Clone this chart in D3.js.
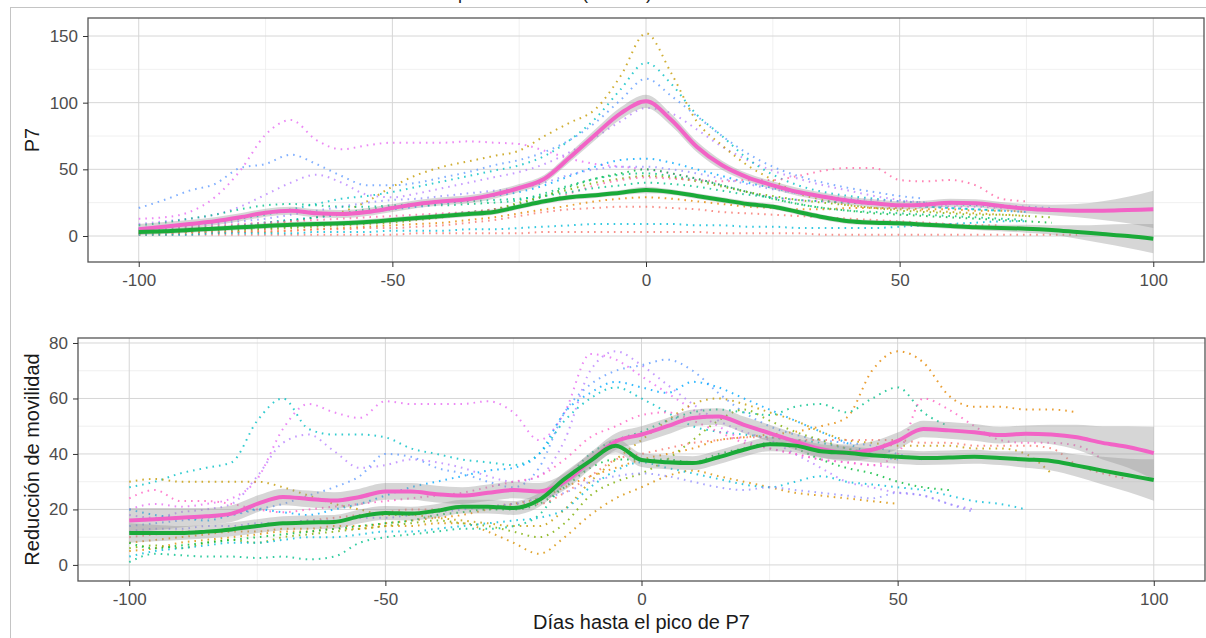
<!DOCTYPE html>
<html lang="es">
<head>
<meta charset="utf-8">
<title>P7 y reducción de movilidad</title>
<script src="https://cdn.jsdelivr.net/npm/d3@7"></script>
<style>
  body { margin: 0; background: #fff; font-family: "Liberation Sans", Arial, sans-serif; }
  .tick text { font-size: 17px; fill: #4d4d4d; }
  .tick line { stroke: #333; }
  .axis path { display: none; }
  .axis-title { font-size: 20px; fill: #1a1a1a; }
</style>
</head>
<body>
<div id="chart"></div>
<script>
// días relativos al pico de P7
const days = [-100,-95,-90,-85,-80,-75,-70,-65,-60,-55,-50,-45,-40,-35,-30,-25,-20,-15,-10,-5,
  0,5,10,15,20,25,30,35,40,45,50,55,60,65,70,75,80,85,90,95,100];
const dayTicks = [-100, -50, 0, 50, 100];
const dayMinor = [-75, -25, 25, 75];

// panel superior: P7
const p7Ticks = [0, 50, 100, 150];
const p7Minor = [25, 75, 125];
const p7Rosa = [5,7,9,11,14,17.5,19,17,16.5,18, 21,24,26,27.5,31,36,43,59,76,92,
  101,87,67,53,44,38,33,29.5,26.5,24.5, 23,23.5,25,24.5,22.5,20.5,19.5,19,19,19.5, 20];
const p7RosaBanda = [4,3.5,3,3,3,3,3,3,3,3, 3,3,3,3,3,3,3,3.5,4,4.5,
  5,4.5,4,3.5,3,3,3,3,3,3, 3,3,3,3,3,3.5,4,5,7,10, 14];
const p7Verde = [3,3.5,4.5,5.5,6.5,7.5,8.5,9,9.5,10.5, 12,13.5,15,16.5,18,22,26,29,30.5,32.5,
  34.5,33,30,27,24,22,18,14,11,10, 9.5,8.5,7.5,6.5,6,5.5,4.5,3,1.5,0, -2];
const p7VerdeBanda = [2.5,2,2,2,2,2,2,2,2,2, 2,2,2,2,2,2,2,2,2,2,
  2.5,2,2,2,2,2,2,2,2,2, 2,2,2,2,2.5,3,3.5,5,7,9, 11];

const p7Series = [
  [13,14,18,29,49,76,87,72,65,68, 70,70,70,71,70,69,64,58,54,52, 50,47,43,38,33,29,27,26,25,24, 23,23,22,22,21,21,20,null,null,null, null],
  [21,27,34,39,51,54,61,54,45,38, 38,40,44,48,53,57,63,72,85,102, 118,105,90,75,62,52,45,40,36,33, 30,28,null,null,null,null,null,null,null,null, null],
  [9,11,13,16,22,31,40,46,40,31, 29,32,36,40,44,48,54,63,74,86, 96,92,80,67,57,49,43,38,34,30, 27,25,23,null,null,null,null,null,null,null, null],
  [4,4,5,6,7,9,11,14,18,26, 37,46,52,56,60,64,75,85,95,120, 152,122,86,68,53,42,32,27,23,21, 20,19,18,17,16,15,null,null,null,null, null],
  [5,6,8,10,13,16,20,24,28,30, 33,37,41,45,49,53,60,72,88,110, 130,114,91,75,58,46,38,33,30,28, 26,25,24,23,22,null,null,null,null,null, null],
  [3,4,5,6,8,10,12,14,16,18, 20,22,24,27,30,33,38,45,52,57, 58,55,50,45,40,36,32,29,27,25, 23,22,21,20,19,18,null,null,null,null, null],
  [2,3,3,4,5,6,7,8,9,10, 12,14,16,18,20,24,30,37,43,47, 50,47,43,38,33,28,24,21,19,17, 16,15,14,13,12,11,10,null,null,null, null],
  [4,5,6,7,8,10,12,14,17,20, 22,23,23,24,25,27,32,38,43,46, 47,45,42,38,33,28,24,21,19,18, 17,16,15,14,13,12,null,null,null,null, null],
  [2,2,3,3,4,5,6,7,8,9, 10,12,14,17,20,25,30,35,40,43, 45,44,41,37,33,30,27,25,23,21, 19,18,17,16,16,15,14,null,null,null, null],
  [1,1,2,2,3,3,4,5,6,7, 8,9,10,12,14,17,20,23,26,28, 29,28,26,24,22,21,20,20,21,21, 21,20,20,19,19,18,null,null,null,null, null],
  [1,1,1,1,1,1,1,1,1,1, 1,2,2,2,2,2,3,3,3,3, 3,3,3,2,2,2,2,1,1,1, 1,1,1,1,1,1,1,1,null,null, null],
  [2,2,3,3,3,4,4,5,5,6, 6,7,8,10,12,15,18,20,21,22, 22,21,20,18,17,16,15,14,13,12, 11,10,9,8,8,null,null,null,null,null, null],
  [1,1,1,2,2,2,2,3,3,3, 4,4,4,5,5,6,7,8,9,9, 9,9,8,8,7,7,6,6,6,6, 7,8,9,10,11,11,null,null,null,null, null],
  [5,6,7,8,9,10,11,12,13,14, 15,16,17,18,20,22,26,32,38,42, 44,43,42,41,42,42,45,49,51,51, 42,41,42,38,28,26,null,null,null,null, null],
  [6,7,8,9,11,13,16,19,22,25, 27,28,30,32,34,36,40,46,50,52, 52,50,47,43,39,35,32,30,28,27, 26,25,24,24,23,22,21,null,null,null, null],
  [8,10,13,16,20,23,24,23,22,22, 23,24,25,26,27,28,30,33,36,38, 40,39,37,34,31,29,27,26,25,24, 23,22,21,20,19,null,null,null,null,null, null]
];
const p7Colors = ["#E76BF3","#619CFF","#B983FF","#C49A00","#00BFC4","#00A9FF","#00BA38","#00BF7D",
  "#7CAE00","#E58700","#F8766D","#F8766D","#00BCD8","#FF67A4","#9590FF","#00C08B"];

// panel inferior: reducción de movilidad
const movTicks = [0, 20, 40, 60, 80];
const movMinor = [10, 30, 50, 70];
const movRosa = [16,16.5,17,17.5,18.5,22,24.5,23.8,23.2,24.5, 26.5,26.5,25.5,25,26,27,26.5,30,37.5,44.5,
  47,50,53,53.5,50.5,47.5,44.5,41.8,40.4,41.5, 44.7,49,48.5,47.8,46.8,47.3,47,46,44,42.5, 40.3];
const movRosaBanda = [4.5,4,3.5,3,3,3,3,3,3,3, 3,3,3,3,3,3,3,3,3,3,
  3,3,3,3,3,3,3,3,3,3, 3,3,3,3,3,3,3.5,4.5,6,7.5, 9.5];
const movVerde = [11.5,11.5,11.5,12,12.8,14,15,15.3,15.5,17.5, 18.7,18.5,19.5,21,21,20.5,23.4,31,37.5,43,
  37.8,37,36.7,38.8,41.5,43.5,43,41,40.4,39.5, 39,38.5,38.7,39,38.5,38,37.5,35.8,34,32.3, 30.6];
const movVerdeBanda = [3.5,3,2.5,2.5,2.5,2.5,2.5,2.5,2.5,2.5, 2.5,2.5,2.5,2.5,2.5,2.5,2.5,2.5,2.5,2.5,
  2.5,2.5,2.5,2.5,2.5,2.5,2.5,2.5,2.5,2.5, 2.5,2.5,2.5,2.5,2.5,3,3.5,4,5,6, 7.5];

const movSeries = [
  [28,30,33,35,37,52,60,49,47,47, 46,42,40,38,37,36,40,52,60,64, 60,55,50,48,47,46,45,44,42,40, null,null,null,null,null,null,null,null,null,null, null],
  [20,22,21,22,24,31,49,58,55,53, 59,58,58,58,59,55,45,55,76,74, 68,62,56,50,45,42,40,38,37,36, 35,null,null,null,null,null,null,null,null,null, null],
  [18,17,19,20,22,32,44,47,41,35, 36,38,37,35,32,30,32,45,70,77, 72,65,58,52,48,45,40,35,30,28, 26,25,22,20,null,null,null,null,null,null, null],
  [14,15,16,17,18,20,22,25,28,32, 40,39,35,33,30,28,35,55,65,70, 72,74,70,62,55,50,47,45,44,43, 40,38,null,null,null,null,null,null,null,null, null],
  [8,9,10,11,12,12,13,13,14,14, 15,16,17,18,20,22,24,28,32,35, 38,40,42,45,46,47,48,50,53,70, 77,73,61,57,57,56,56,55,null,null, null],
  [30,31,30,30,30,30,28,25,22,20, 18,18,17,16,15,14,14,20,30,38, 45,52,58,60,58,55,52,48,45,44, 43,43,43,42,42,40,33,null,null,null, null],
  [1,4,3.5,3,3,2.5,3,2,3,8, 10,11,12,13,13,14,18,30,40,45, 48,52,55,56,55,54,57,58,55,60, 64,55,50,null,null,null,null,null,null,null, null],
  [6,7,6,8,9,8,10,11,12,13, 14,15,16,15,14,12,10,15,25,30, 33,38,45,52,56,52,48,45,42,40, 38,null,null,null,null,null,null,null,null,null, null],
  [10,11,12,12,13,14,15,16,17,18, 19,20,20,21,21,22,22,26,32,38, 40,42,44,45,46,46,45,45,45,45, 45,44,44,43,43,43,42,36,33,31, null],
  [5,6,8,9,10,11,12,12,13,13, 14,14,15,15,12,8,4,10,18,24, 28,32,34,32,30,28,26,25,24,23, 22,null,null,null,null,null,null,null,null,null, null],
  [3,5,6,7,8,8,9,10,10,11, 12,12,13,14,15,16,17,20,28,34, 37,35,33,31,29,28,30,32,30,29, 28,27,25,23,22,20,null,null,null,null, null],
  [20,18,17,16,18,20,19,18,20,22, 25,28,30,32,34,35,40,55,62,66, 64,62,66,64,60,56,52,48,44,40, 38,null,null,null,null,null,null,null,null,null, null],
  [24,27,23,23,22,20,19,20,21,22, 23,24,25,26,28,30,32,38,46,50, 54,55,52,48,44,42,40,38,37,36, 40,60,56,50,45,44,44,43,38,null, null],
  [8,6,7,8,9,10,11,12,13,14, 15,16,18,19,20,20,22,28,35,38, 38,38,37,40,42,44,42,38,35,33, 30,28,27,null,null,null,null,null,null,null, null],
  [12,13,13,14,14,15,15,16,16,17, 17,18,19,20,21,22,24,26,30,32, 33,32,30,28,27,28,27,26,25,24, 26,25,22,19,null,null,null,null,null,null, null]
];
const movColors = ["#00BFC4","#E76BF3","#B983FF","#619CFF","#E58700","#C49A00","#00C08B","#7CAE00",
  "#F8766D","#D89000","#00BCD8","#00A9FF","#FF61C3","#00BA38","#9590FF"];

const WIDTH = 1206, HEIGHT = 638;
const ROSA = "#F263C6", VERDE = "#1AAA38";

const svg = d3.select("#chart").append("svg")
  .attr("width", WIDTH).attr("height", HEIGHT)
  .attr("viewBox", [0, 0, WIDTH, HEIGHT]);

// titulo cortado arriba (solo asoman los descendentes)
svg.append("text")
  .attr("x", 652).attr("y", -1)
  .attr("text-anchor", "end")
  .style("font-size", "18px").style("fill", "#222")
  .text("Evolución por comunidad (medias)");

// marco exterior de la imagen
svg.append("rect")
  .attr("x", 10.5).attr("y", 7.5).attr("width", 1300).attr("height", 700)
  .attr("fill", "none").attr("stroke", "#c4c4c4");

function drawPanel(cfg) {
  const g = svg.append("g");
  const x = d3.scaleLinear().domain([-110, 110]).range([cfg.left, cfg.right]);
  const y = d3.scaleLinear().domain(cfg.yDomain).range([cfg.bottom, cfg.top]);

  // rejilla menor
  g.selectAll(".vmin").data(dayMinor).join("line")
    .attr("x1", d => x(d)).attr("x2", d => x(d)).attr("y1", cfg.top).attr("y2", cfg.bottom)
    .attr("stroke", "#ececec").attr("stroke-width", 0.8);
  g.selectAll(".hmin").data(cfg.minor).join("line")
    .attr("x1", cfg.left).attr("x2", cfg.right).attr("y1", d => y(d)).attr("y2", d => y(d))
    .attr("stroke", "#ececec").attr("stroke-width", 0.8);
  // rejilla mayor
  g.selectAll(".vmaj").data(dayTicks).join("line")
    .attr("x1", d => x(d)).attr("x2", d => x(d)).attr("y1", cfg.top).attr("y2", cfg.bottom)
    .attr("stroke", "#d6d6d6").attr("stroke-width", 1);
  g.selectAll(".hmaj").data(cfg.ticks).join("line")
    .attr("x1", cfg.left).attr("x2", cfg.right).attr("y1", d => y(d)).attr("y2", d => y(d))
    .attr("stroke", "#d6d6d6").attr("stroke-width", 1);

  const line = d3.line()
    .defined(d => d[1] != null)
    .x(d => x(d[0])).y(d => y(d[1]))
    .curve(d3.curveMonotoneX);

  // series individuales punteadas
  cfg.series.forEach((s, k) => {
    g.append("path")
      .datum(days.map((d, i) => [d, s[i]]))
      .attr("d", line)
      .attr("fill", "none")
      .attr("stroke", cfg.colors[k])
      .attr("stroke-width", 2)
      .attr("stroke-dasharray", "1.6,5")
      .attr("opacity", 0.8);
  });

  const area = d3.area()
    .x(d => x(d[0]))
    .y0(d => y(d[1] - d[2]))
    .y1(d => y(d[1] + d[2]))
    .curve(d3.curveMonotoneX);

  // bandas de confianza
  cfg.smooth.forEach(sm => {
    g.append("path")
      .datum(days.map((d, i) => [d, sm.values[i], sm.band[i]]))
      .attr("d", area)
      .attr("fill", "#999").attr("opacity", 0.4);
  });
  // lineas suavizadas
  cfg.smooth.forEach(sm => {
    g.append("path")
      .datum(days.map((d, i) => [d, sm.values[i]]))
      .attr("d", line)
      .attr("fill", "none")
      .attr("stroke", sm.color)
      .attr("stroke-width", 4);
  });

  // borde del panel
  g.append("rect")
    .attr("x", cfg.left).attr("y", cfg.top)
    .attr("width", cfg.right - cfg.left).attr("height", cfg.bottom - cfg.top)
    .attr("fill", "none").attr("stroke", "#555").attr("stroke-width", 1.3);

  // ejes (guion simple como en la figura original)
  g.append("g").attr("class", "axis")
    .attr("transform", "translate(0," + cfg.bottom + ")")
    .call(d3.axisBottom(x).tickValues(dayTicks).tickSize(5).tickPadding(7).tickFormat(d => String(d)));
  g.append("g").attr("class", "axis")
    .attr("transform", "translate(" + cfg.left + ",0)")
    .call(d3.axisLeft(y).tickValues(cfg.ticks).tickSize(5).tickPadding(5).tickFormat(d => String(d)));

  // titulo del eje y
  g.append("text")
    .attr("class", "axis-title")
    .attr("transform", "translate(32," + (cfg.top + cfg.bottom) / 2 + ") rotate(-90)")
    .attr("text-anchor", "middle")
    .attr("dy", "0.36em")
    .text(cfg.yTitle);

  return x;
}

drawPanel({
  left: 88, right: 1204, top: 18, bottom: 262,
  yDomain: [-19.5, 163.5], ticks: p7Ticks, minor: p7Minor,
  series: p7Series, colors: p7Colors,
  smooth: [
    { values: p7Rosa, band: p7RosaBanda, color: ROSA },
    { values: p7Verde, band: p7VerdeBanda, color: VERDE }
  ],
  yTitle: "P7"
});

drawPanel({
  left: 78, right: 1205, top: 338, bottom: 581,
  yDomain: [-5.8, 81.8], ticks: movTicks, minor: movMinor,
  series: movSeries, colors: movColors,
  smooth: [
    { values: movRosa, band: movRosaBanda, color: ROSA },
    { values: movVerde, band: movVerdeBanda, color: VERDE }
  ],
  yTitle: "Reducción de movilidad"
});

svg.append("text")
  .attr("class", "axis-title")
  .attr("x", (78 + 1205) / 2).attr("y", 622)
  .attr("text-anchor", "middle").attr("dy", "0.36em")
  .text("Días hasta el pico de P7");
</script>
</body>
</html>
